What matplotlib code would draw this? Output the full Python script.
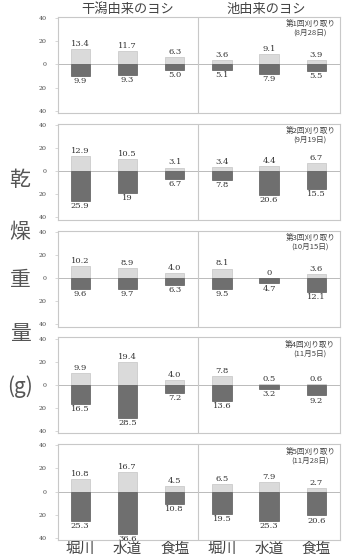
#!/usr/bin/env python3
import matplotlib as mpl
mpl.use('Agg')
import matplotlib.pyplot as plt
import numpy as np

plt.rcParams['font.family'] = ['Noto Sans CJK JP', 'DejaVu Sans']

sites = ['堀川', '水道', '食塩', '堀川', '水道', '食塩']
groups = ['干潟由来のヨシ', '池由来のヨシ']
harvests = [
    '第1回刈り取り\n(8月28日)',
    '第2回刈り取り\n(9月19日)',
    '第3回刈り取り\n(10月15日)',
    '第4回刈り取り\n(11月5日)',
    '第5回刈り取り\n(11月28日)',
]

# above ground (light) and below ground (dark), g
upper = [
    [13.4, 11.7, 6.3, 3.6, 9.1, 3.9],
    [12.9, 10.5, 3.1, 3.4, 4.4, 6.7],
    [10.2, 8.9, 4.0, 8.1, 0, 3.6],
    [9.9, 19.4, 4.0, 7.8, 0.5, 0.6],
    [10.8, 16.7, 4.5, 6.5, 7.9, 2.7],
]
lower = [
    [9.9, 9.3, 5.0, 5.1, 7.9, 5.5],
    [25.9, 19, 6.7, 7.8, 20.6, 15.5],
    [9.6, 9.7, 6.3, 9.5, 4.7, 12.1],
    [16.5, 28.5, 7.2, 13.6, 3.2, 9.2],
    [25.3, 36.6, 10.8, 19.5, 25.3, 20.6],
]
yticks = [40, 20, 0, -20, -40]


def fmt(v):
    # integers in the data are printed without decimals, as in the source
    return str(v) if isinstance(v, int) else f'{v:.1f}'


W, H = 342, 555
fig = plt.figure(figsize=(W / 100, H / 100), dpi=100)

x = np.arange(len(sites))
frame = '#c8c8c8'

for i in range(len(harvests)):
    top = 17 + 106.8 * i
    ax = fig.add_axes([58 / W, 1 - (top + 96) / H, 282 / W, 96 / H])
    ax.bar(x, upper[i], width=0.41, color='#dadada', edgecolor='#c4c4c4', linewidth=0.5)
    ax.bar(x, [-v for v in lower[i]], width=0.41, color='#6f6f6f', edgecolor='#5a5a5a', linewidth=0.5)
    ax.axhline(0, color='#b0b0b0', lw=0.6, zorder=0)
    ax.axvline(2.5, color=frame, lw=0.8)
    for xi, u, l in zip(x, upper[i], lower[i]):
        ax.text(xi, u + 1.0, fmt(u), ha='center', va='bottom', fontsize=6,
                family='DejaVu Serif', color='#333333')
        ax.text(xi, -l - 1.0, fmt(l), ha='center', va='top', fontsize=6,
                family='DejaVu Serif', color='#333333')
    ax.text(5.4, 38, harvests[i], ha='right', va='top', fontsize=5.5,
            color='#444444', multialignment='center', linespacing=1.1)
    ax.set_xlim(-0.47, 5.5)
    ax.set_ylim(-42, 41)
    ax.set_yticks(yticks)
    ax.set_yticklabels([str(abs(t)) for t in yticks], fontsize=4.5,
                       family='DejaVu Serif', color='#444444')
    ax.tick_params(axis='y', length=2, width=0.5, color=frame, pad=6)
    for s in ax.spines.values():
        s.set_color(frame)
        s.set_linewidth(0.8)
    if i == len(harvests) - 1:
        ax.set_xticks(x)
        ax.set_xticklabels(sites, fontsize=10.5, color='#444444')
        ax.tick_params(axis='x', length=0, pad=1)
    else:
        ax.set_xticks([])

fig.text(128 / W, 1 - 9 / H, groups[0], ha='center', va='center', fontsize=9.5, color='#444444')
fig.text(266 / W, 1 - 9 / H, groups[1], ha='center', va='center', fontsize=9.5, color='#444444')

for ch, yy in zip(['乾', '燥', '重', '量', '(g)'], [180, 232, 280, 334, 387]):
    fig.text(20 / W, 1 - yy / H, ch, ha='center', va='center', fontsize=15, color='#555555')

fig.savefig('out.png', dpi=100)
